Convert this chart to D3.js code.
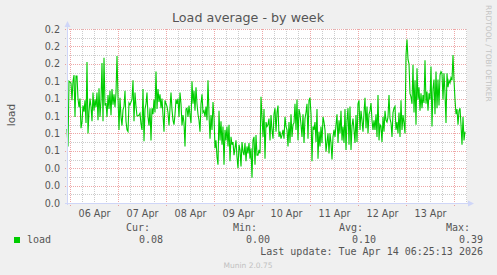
<!DOCTYPE html>
<html><head><meta charset="utf-8">
<script src="https://cdn.jsdelivr.net/npm/d3@7"></script>
<style>
html,body{margin:0;padding:0;background:#f0f0f0;}
svg{display:block;}
</style>
</head><body>
<svg id="chart" width="497" height="275"></svg>
<script>
// ---- data (30-minute averages of the load) ----
const seriesStart = Date.UTC(2026, 3, 5, 22, 30);   // first sample
const stepMinutes = 30;
const loadApr06 = [0.085,0.065,0.140,0.139,0.138,0.118,0.140,0.147,0.099,0.146,0.146,0.120,0.110,0.120,0.086,0.093,0.112,0.105,0.118,0.092,0.162,0.080,0.105,0.120,0.111,0.094,0.127,0.106,0.119,0.110,0.127,0.095,0.132,0.099,0.118,0.161,0.094,0.167,0.112,0.115,0.099,0.124,0.108,0.129,0.101,0.131,0.113,0.125,0.110,0.127,0.169,0.122,0.084,0.121,0.099,0.089,0.107,0.111,0.129,0.094,0.084,0.082,0.115,0.113,0.116,0.119,0.141,0.094,0.127,0.111,0.100,0.100,0.101,0.103,0.091,0.084,0.131];
const loadApr07 = [0.071,0.108,0.114,0.127,0.099,0.089,0.109,0.072,0.109,0.102,0.119,0.104,0.151,0.108,0.131,0.116,0.125,0.109,0.120,0.101,0.082,0.118,0.114,0.111,0.104,0.089,0.109,0.127,0.107,0.095,0.090,0.102,0.119,0.114,0.120,0.099,0.127,0.114,0.089,0.101,0.092,0.065,0.108,0.109,0.099,0.112,0.101,0.092,0.140,0.114,0.129,0.106,0.133,0.114,0.102,0.095,0.082,0.114,0.125,0.104,0.106,0.099,0.111,0.095,0.141,0.102,0.074,0.101,0.084,0.116,0.099,0.063,0.072,0.053];
const loadApr09 = [0.044,0.106,0.072,0.094,0.067,0.088,0.044,0.084,0.072,0.088,0.065,0.090,0.048,0.076,0.067,0.070,0.055,0.063,0.072,0.053,0.040,0.067,0.061,0.042,0.070,0.059,0.055,0.069,0.048,0.065,0.057,0.069,0.051,0.063,0.029,0.072,0.076,0.044,0.078,0.055,0.055,0.061,0.057,0.122,0.099,0.076,0.108,0.051,0.093,0.088,0.090,0.097,0.072,0.101,0.084,0.074,0.102,0.109,0.082,0.104,0.112,0.076,0.082,0.074,0.078,0.084,0.074,0.099,0.088,0.084,0.065,0.093,0.069,0.102,0.076,0.090,0.092,0.114,0.084,0.119,0.072,0.108];
const loadApr11 = [0.102,0.090,0.076,0.102,0.069,0.097,0.104,0.114,0.074,0.118,0.121,0.102,0.048,0.088,0.084,0.093,0.070,0.108,0.051,0.082,0.065,0.088,0.069,0.099,0.093,0.084,0.059,0.070,0.080,0.057,0.080,0.069,0.050,0.076,0.084,0.076,0.090,0.102,0.069,0.095,0.080,0.106,0.072,0.088,0.069,0.108,0.061,0.095,0.109,0.067,0.111,0.061,0.088,0.097,0.084,0.069,0.101,0.070,0.114,0.118,0.084,0.106,0.095,0.082,0.104,0.121,0.086,0.111,0.080,0.102,0.106,0.115,0.095,0.084];
const loadApr12 = [0.095,0.084,0.102,0.076,0.124,0.072,0.090,0.088,0.070,0.099,0.082,0.106,0.095,0.093,0.099,0.124,0.097,0.092,0.076,0.104,0.109,0.111,0.084,0.093,0.080,0.104,0.076,0.118,0.084,0.101,0.092];
const loadApr13 = [0.080,0.170,0.188,0.165,0.160,0.126,0.122,0.114,0.159,0.104,0.141,0.090,0.155,0.119,0.133,0.106,0.126,0.109,0.124,0.115,0.164,0.114,0.128,0.106,0.126,0.119,0.157,0.088,0.131,0.142,0.102,0.151,0.109,0.142,0.112,0.147,0.151,0.149,0.119,0.149,0.126,0.092,0.149,0.133,0.141,0.138,0.144,0.141,0.170,0.141,0.119,0.102,0.108,0.090,0.106,0.109,0.090,0.067,0.099,0.072,0.082];

const yTickValues = [0,0.02,0.04,0.06,0.08,0.10,0.12,0.14,0.16,0.18,0.20];
const yMinorValues = [0.01,0.03,0.05,0.07,0.09,0.11,0.13,0.15,0.17,0.19];
const legendHeads = ["Cur:","Min:","Avg:","Max:"];
const legendValues = ["0.08","0.00","0.10","0.39"];
const seriesName = "load";
const titleText = "Load average - by week";
const lastUpdate = "Last update: Tue Apr 14 06:25:13 2026";

// ---- build series ----
const loadAll = [].concat(loadApr06, loadApr07, loadApr09, loadApr11, loadApr12, loadApr13);
const points = loadAll.map((v, i) => ({t: new Date(seriesStart + i * stepMinutes * 60000), v}));

// ---- layout ----
const W = 497, H = 275;
const L = 67, R = 467, T = 29, B = 203;
const font = "'DejaVu Sans', Verdana, sans-serif";
const mono = "'DejaVu Sans Mono', monospace";
const textCol = "#555";

const svg = d3.select("#chart");
svg.append("rect").attr("width", W).attr("height", H).attr("fill", "#f0f0f0");

const x = d3.scaleUtc().domain([new Date(seriesStart), new Date(seriesStart + 200 * 3600000)]).range([L, R]);
const y = d3.scaleLinear().domain([0, 0.2]).range([B, T]);

svg.append("rect").attr("x", L).attr("y", T).attr("width", R - L).attr("height", B - T).attr("fill", "#fff");

const [d0, d1] = x.domain();
const minorX = d3.utcHour.every(6).range(d0, d1).filter(d => d.getUTCHours() !== 0);
const majorX = d3.utcDay.range(d0, d1);
const g = svg.append("g").attr("shape-rendering", "crispEdges");
// minor grid
g.selectAll(".mx").data(minorX).join("line")
  .attr("x1", d => Math.round(x(d)) + 0.5).attr("x2", d => Math.round(x(d)) + 0.5)
  .attr("y1", T).attr("y2", B + 2)
  .attr("stroke", "#8f8f8f").attr("stroke-opacity", 0.45).attr("stroke-dasharray", "1,1");
g.selectAll(".my").data(yMinorValues).join("line")
  .attr("x1", L - 2).attr("x2", R)
  .attr("y1", d => Math.round(y(d)) + 0.5).attr("y2", d => Math.round(y(d)) + 0.5)
  .attr("stroke", "#8f8f8f").attr("stroke-opacity", 0.45).attr("stroke-dasharray", "1,1");
// major grid
g.selectAll(".Mx").data(majorX).join("line")
  .attr("x1", d => Math.round(x(d)) + 0.5).attr("x2", d => Math.round(x(d)) + 0.5)
  .attr("y1", T).attr("y2", B + 3)
  .attr("stroke", "#de5050").attr("stroke-opacity", 0.5).attr("stroke-dasharray", "1,1");
g.selectAll(".My").data(yTickValues.slice(1)).join("line")
  .attr("x1", L - 2).attr("x2", R)
  .attr("y1", d => Math.round(y(d)) + 0.5).attr("y2", d => Math.round(y(d)) + 0.5)
  .attr("stroke", "#de5050").attr("stroke-opacity", 0.5).attr("stroke-dasharray", "1,1");

// data line
svg.append("path").datum(points)
  .attr("fill", "none").attr("stroke", "#00cc00").attr("stroke-width", 1.1)
  .attr("d", d3.line().x(d => x(d.t)).y(d => y(d.v)));

// axes lines + arrows
const axCol = "#cfd6f8";
svg.append("line").attr("x1", L + 0.5).attr("x2", L + 0.5).attr("y1", B + 2).attr("y2", 25).attr("stroke", axCol);
svg.append("line").attr("x1", L - 2).attr("x2", 469).attr("y1", B + 0.5).attr("y2", B + 0.5).attr("stroke", axCol);
svg.append("path").attr("d", `M${L + 0.5},21 L${L - 2.5},27 L${L + 3.5},27 Z`).attr("fill", axCol);
svg.append("path").attr("d", `M474,${B + 0.5} L468,${B - 2.5} L468,${B + 3.5} Z`).attr("fill", axCol);

// y axis labels
const yAxis = svg.append("g").attr("transform", `translate(${L},0)`)
  .call(d3.axisLeft(y).tickValues(yTickValues).tickFormat(d3.format(".1f")).tickSize(0).tickPadding(7));
yAxis.select(".domain").remove();
yAxis.selectAll("text").attr("font-family", font).attr("font-size", 9.6).attr("fill", textCol);

// x axis labels at noon
const noonTicks = majorX.map(d => d3.utcHour.offset(d, 12)).filter(d => x(d) < R);
const xAxis = svg.append("g").attr("transform", `translate(0,${B})`)
  .call(d3.axisBottom(x).tickValues(noonTicks).tickFormat(d3.utcFormat("%d %b")).tickSize(0).tickPadding(7));
xAxis.select(".domain").remove();
xAxis.selectAll("text").attr("font-family", font).attr("font-size", 9.6).attr("fill", textCol);

// title & labels
svg.append("text").attr("x", 248).attr("y", 22).attr("text-anchor", "middle")
  .attr("font-family", font).attr("font-size", 12.7).attr("fill", textCol).text(titleText);
svg.append("text").attr("transform", "translate(15,115) rotate(-90)").attr("text-anchor", "middle")
  .attr("font-family", font).attr("font-size", 10.5).attr("fill", textCol).text(seriesName);
svg.append("text").attr("transform", "translate(485.5,5) rotate(90)").attr("text-anchor", "start")
  .attr("font-family", font).attr("font-size", 7.5).attr("fill", "#c4c4c4").text("RRDTOOL / TOBI OETIKER");

// legend
svg.append("rect").attr("x", 14).attr("y", 237).attr("width", 6).attr("height", 6).attr("fill", "#00cc00");
svg.append("text").attr("x", 27).attr("y", 243).attr("font-family", mono).attr("font-size", 10)
  .attr("fill", textCol).text(seriesName);
const headRight = [150, 257, 363, 470];
const valRight = [163, 270, 376, 483];
svg.selectAll(".lh").data(legendHeads).join("text")
  .attr("x", (d, i) => headRight[i]).attr("y", 231).attr("text-anchor", "end")
  .attr("font-family", mono).attr("font-size", 10).attr("fill", textCol).text(d => d);
svg.selectAll(".lv").data(legendValues).join("text")
  .attr("x", (d, i) => valRight[i]).attr("y", 243).attr("text-anchor", "end")
  .attr("font-family", mono).attr("font-size", 10).attr("fill", textCol).text(d => d);
svg.append("text").attr("x", 483).attr("y", 255).attr("text-anchor", "end")
  .attr("font-family", mono).attr("font-size", 10).attr("fill", textCol).text(lastUpdate);
svg.append("text").attr("x", 248).attr("y", 268).attr("text-anchor", "middle")
  .attr("font-family", font).attr("font-size", 7.5).attr("fill", "#c0c0c0").text("Munin 2.0.75");
</script>
</body></html>
